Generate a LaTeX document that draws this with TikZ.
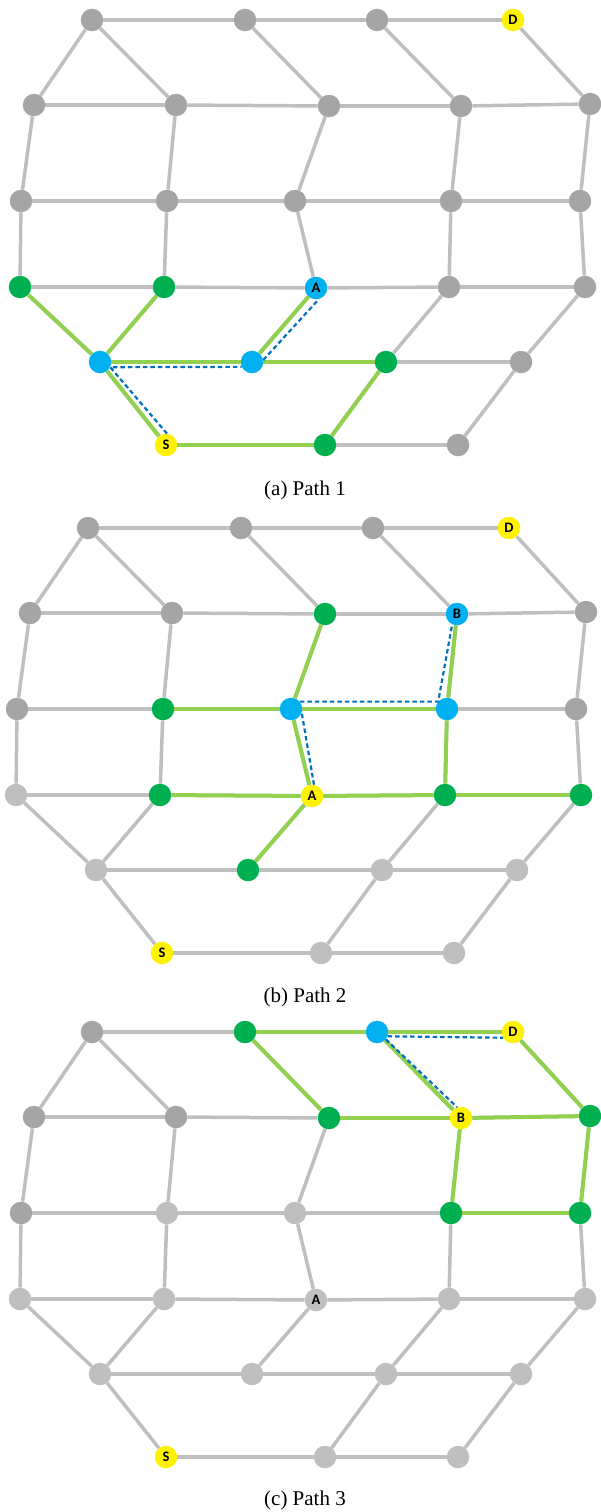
\documentclass[tikz,border=0pt]{standalone}
\usepackage{fontspec}
\setmainfont{Liberation Serif}
\newfontfamily\lblfont{Carlito}
\usepackage{xcolor}
\usepackage{tikz}

\definecolor{nodegray}{HTML}{A5A5A5}
\definecolor{palegray}{HTML}{BFBFBF}
\definecolor{hopgreen}{HTML}{00B050}
\definecolor{linkgreen}{HTML}{92D050}
\definecolor{relayblue}{HTML}{00B0F0}
\definecolor{pathblue}{HTML}{0070C0}

\tikzset{
  vtx/.style={circle, minimum size=22.5pt, inner sep=0pt,
              font=\lblfont\bfseries\fontsize{14.5}{14.5}\selectfont},
  link/.style={draw=palegray, line width=3.5pt},
  used/.style={draw=linkgreen, line width=4pt},
  detour/.style={draw=pathblue, line width=2.2pt, dash pattern=on 4.5pt off 3pt},
  capt/.style={font=\fontsize{21}{24}\selectfont}
}

% every link of the network, same in all three panels
\newcommand\alllinks[1]{%
  \foreach \u/\v in {a1/a2,a2/a3,a3/a4, a1/b1,a1/b2,a2/b3,a3/b4,a4/b5,
                     b1/b2,b2/b3,b3/b4,b4/b5, b1/c1,b2/c2,b3/c3,b4/c4,b5/c5,
                     c1/c2,c2/c3,c3/c4,c4/c5, c1/d1,c2/d2,c3/d3,c4/d4,c5/d5,
                     d1/d2,d2/d3,d3/d4,d4/d5, d1/e1,d2/e1,d3/e2,d4/e3,d5/e4,
                     e1/e2,e2/e3,e3/e4, e1/f1,e3/f2,e4/f3, f1/f2,f2/f3}
    \draw[link] (#1-\u) -- (#1-\v);}

\begin{document}
\begin{tikzpicture}[x=1pt, y=-1pt]
  \useasboundingbox (0,0) rectangle (600,1512);

  % (a) Path 1
  \begin{scope}
    \foreach \n/\x/\y/\c/\t in {
        a1/92/20/nodegray/{}, a2/245/20/nodegray/{}, a3/377/20/nodegray/{}, a4/513/20/yellow/D,
        b1/34/105/nodegray/{}, b2/176/105/nodegray/{}, b3/329/106/nodegray/{}, b4/461/106/nodegray/{}, b5/590/104/nodegray/{},
        c1/21/201/nodegray/{}, c2/167/201/nodegray/{}, c3/295/201/nodegray/{}, c4/451/201/nodegray/{}, c5/580/201/nodegray/{},
        d1/20/287/hopgreen/{}, d2/164/287/hopgreen/{}, d3/316/288/relayblue/A, d4/449/287/nodegray/{}, d5/585/287/nodegray/{},
        e1/100/362/relayblue/{}, e2/252/362/relayblue/{}, e3/386/362/hopgreen/{}, e4/521/362/nodegray/{},
        f1/166/445/yellow/S, f2/325/445/hopgreen/{}, f3/458/445/nodegray/{}}
      \node[vtx, fill=\c] (pa-\n) at (\x,\y) {\t};
    \alllinks{pa}
    \foreach \u/\v in {d1/e1,d2/e1,e1/e2,e2/e3,e2/d3,e1/f1,f1/f2,f2/e3}
      \draw[used] (pa-\u) -- (pa-\v);
    \draw[detour] (pa-f1.85) -- (pa-e1.-27) -- (pa-e2.205);
    \draw[detour] (pa-e2.10) -- (pa-d3.-75);
    \node[capt] (capa) at (305,490) {(a) Path 1};
  \end{scope}

  % (b) Path 2
  \begin{scope}[shift={(-4,508)}]
    \foreach \n/\x/\y/\c/\t in {
        a1/92/20/nodegray/{}, a2/245/20/nodegray/{}, a3/377/20/nodegray/{}, a4/513/20/yellow/D,
        b1/34/105/nodegray/{}, b2/176/105/nodegray/{}, b3/329/106/hopgreen/{}, b4/461/106/relayblue/B, b5/590/104/nodegray/{},
        c1/21/201/nodegray/{}, c2/167/201/hopgreen/{}, c3/295/201/relayblue/{}, c4/451/201/relayblue/{}, c5/580/201/nodegray/{},
        d1/20/287/palegray/{}, d2/164/287/hopgreen/{}, d3/316/288/yellow/A, d4/449/287/hopgreen/{}, d5/585/287/hopgreen/{},
        e1/100/362/palegray/{}, e2/252/362/hopgreen/{}, e3/386/362/palegray/{}, e4/521/362/palegray/{},
        f1/166/445/yellow/S, f2/325/445/palegray/{}, f3/458/445/palegray/{}}
      \node[vtx, fill=\c] (pb-\n) at (\x,\y) {\t};
    \alllinks{pb}
    \foreach \u/\v in {c2/c3,c3/b3,c3/c4,c3/d3,c4/b4,c4/d4,d2/d3,d3/d4,d4/d5,d3/e2}
      \draw[used] (pb-\u) -- (pb-\v);
    \draw[detour] (pb-d3.80) -- (pb-c3.-20);
    \draw[detour] (pb-c3.40) -- (pb-c4.140) -- (pb-b4.-115);
    \node[capt] (capb) at (309,489) {(b) Path 2};
  \end{scope}

  % (c) Path 3
  \begin{scope}[shift={(0,1012)}]
    \foreach \n/\x/\y/\c/\t in {
        a1/92/20/nodegray/{}, a2/245/20/hopgreen/{}, a3/377/20/relayblue/{}, a4/513/20/yellow/D,
        b1/34/105/nodegray/{}, b2/176/105/nodegray/{}, b3/329/106/hopgreen/{}, b4/461/106/yellow/B, b5/590/104/hopgreen/{},
        c1/21/201/nodegray/{}, c2/167/201/palegray/{}, c3/295/201/palegray/{}, c4/451/201/hopgreen/{}, c5/580/201/hopgreen/{},
        d1/20/287/palegray/{}, d2/164/287/palegray/{}, d3/316/288/palegray/A, d4/449/287/palegray/{}, d5/585/287/palegray/{},
        e1/100/362/palegray/{}, e2/252/362/palegray/{}, e3/386/362/palegray/{}, e4/521/362/palegray/{},
        f1/166/445/yellow/S, f2/325/445/palegray/{}, f3/458/445/palegray/{}}
      \node[vtx, fill=\c] (pc-\n) at (\x,\y) {\t};
    \alllinks{pc}
    \foreach \u/\v in {a2/a3,a3/a4,a2/b3,a3/b4,a4/b5,b3/b4,b4/b5,b4/c4,b5/c5,c4/c5}
      \draw[used] (pc-\u) -- (pc-\v);
    \draw[detour] (pc-a3.-22) -- (pc-a4.210);
    \draw[detour] (pc-a3.-40) -- (pc-b4.110);
    \node[capt] (capc) at (305,488) {(c) Path 3};
  \end{scope}
\end{tikzpicture}
\end{document}
